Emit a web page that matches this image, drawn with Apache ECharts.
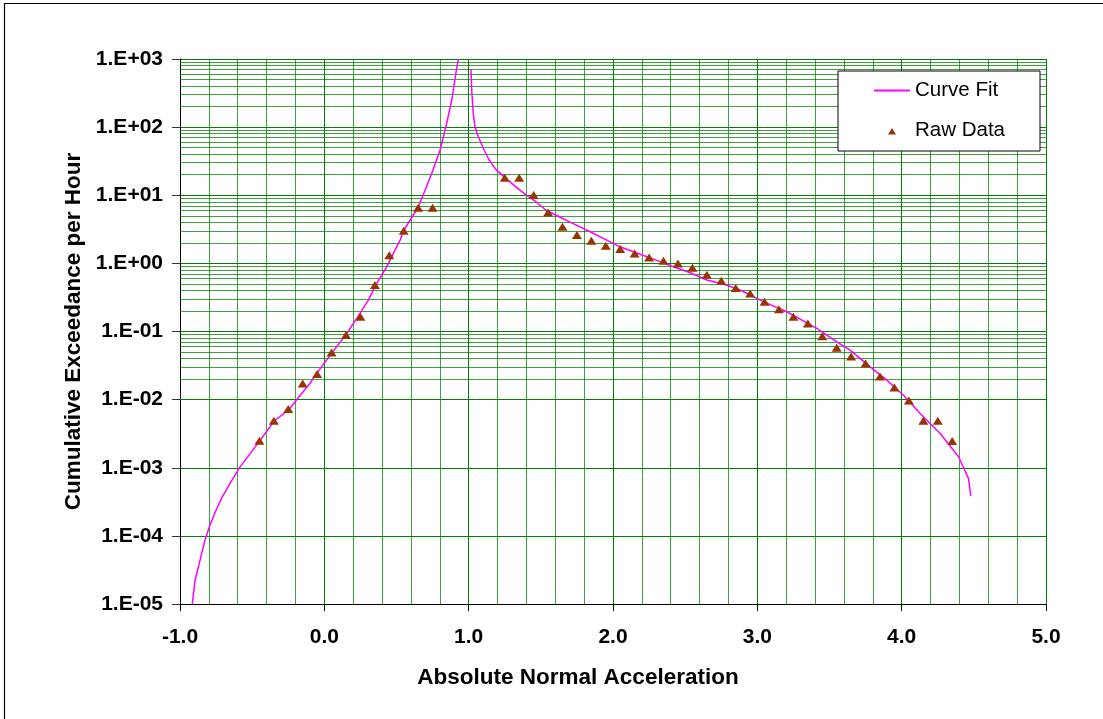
<!DOCTYPE html>
<html><head><meta charset="utf-8">
<script src="https://cdn.jsdelivr.net/npm/echarts@6/dist/echarts.min.js"></script>
<style>html,body{margin:0;padding:0;background:#fff}#c{width:1103px;height:719px}</style>
</head><body><div id="c"></div>
<script>
// ---- data ----
const curveLeftX = [-0.915,-0.896,-0.861,-0.827,-0.797,-0.757,-0.711,-0.653,-0.584,-0.515,-0.446,-0.346,-0.249,-0.175,-0.099,-0.053,0.04,0.155,0.224,0.305,0.363,0.432,0.478,0.525,0.552,0.652,0.744,0.802,0.848,0.883,0.915,0.929];
const curveLeftY = [1.0e-5,2.2e-5,4.4e-5,8.7e-5,1.35e-4,2.2e-4,3.6e-4,5.9e-4,1.03e-3,1.6e-3,2.5e-3,4.9e-3,7.0e-3,1.1e-2,1.74e-2,2.43e-2,4.47e-2,9.3e-2,0.155,0.288,0.508,0.89,1.40,2.20,3.09,6.78,20.9,46.1,114,250,692,1000];
const curveRightX = [1.016,1.021,1.032,1.044,1.067,1.107,1.142,1.188,1.258,1.327,1.397,1.466,1.534,1.627,1.72,1.841,1.957,2.049,2.141,2.234,2.326,2.419,2.535,2.65,2.765,2.881,2.996,3.112,3.204,3.297,3.412,3.551,3.643,3.782,3.897,4.013,4.128,4.267,4.394,4.463,4.479];
const curveRightY = [708,351,158,101,72.4,46.1,32.9,24.0,17.7,13.3,10.1,8.04,6.07,4.83,3.86,2.91,2.20,1.75,1.48,1.25,1.06,0.891,0.728,0.569,0.497,0.406,0.306,0.236,0.195,0.152,0.111,0.0706,0.0533,0.0303,0.0193,0.0116,0.00627,0.00318,0.00145,0.000697,0.000383];
const rawX = [-0.45,-0.35,-0.25,-0.15,-0.05,0.05,0.15,0.25,0.35,0.45,0.55,0.65,0.75,1.25,1.35,1.45,1.55,1.65,1.75,1.85,1.95,2.05,2.15,2.25,2.35,2.45,2.55,2.65,2.75,2.85,2.95,3.05,3.15,3.25,3.35,3.45,3.55,3.65,3.75,3.85,3.95,4.05,4.15,4.25,4.35];
const rawY = [0.0025,0.0049,0.0073,0.0173,0.0237,0.0493,0.0885,0.164,0.48,1.32,3.0,6.55,6.55,18.1,18.1,10.1,5.6,3.45,2.6,2.15,1.82,1.62,1.40,1.22,1.09,1.0,0.86,0.68,0.556,0.434,0.362,0.273,0.213,0.164,0.131,0.0855,0.0577,0.043,0.034,0.0219,0.0151,0.0097,0.0049,0.0049,0.00248];
const yTickLabels = ['1.E-05','1.E-04','1.E-03','1.E-02','1.E-01','1.E+00','1.E+01','1.E+02','1.E+03'];
const yMinExp = -5, yMaxExp = 3;
const xMin = -1, xMax = 5, xMinorPerMajor = 5;
const seriesNames = ['Curve Fit', 'Raw Data'];
const xTitle = 'Absolute Normal Acceleration';
const yTitle = 'Cumulative Exceedance per Hour';

// ---- build ----
const zip = (a, b) => a.map((v, i) => [v, b[i]]);
const FONT = 'Liberation Sans, Arial, sans-serif';
const GRID = '#008000';
const minorLines = [];
for (let k = yMinExp; k < yMaxExp; k++) {
  for (let m = 2; m <= 9; m++) minorLines.push({ yAxis: m * Math.pow(10, k) });
}
for (let i = xMin * xMinorPerMajor; i <= xMax * xMinorPerMajor; i++) {
  if (i % xMinorPerMajor !== 0) minorLines.push({ xAxis: i / xMinorPerMajor });
}

const chart = echarts.init(document.getElementById('c'), null, { renderer: 'canvas' });
chart.setOption({
  animation: false,
  backgroundColor: '#fff',
  textStyle: { fontFamily: FONT },
  graphic: [{
    type: 'rect', silent: true, z: 100,
    shape: { x: 4.5, y: 3.5, width: 1300, height: 900 },
    style: { fill: 'none', stroke: '#000', lineWidth: 1.2 }
  }],
  grid: { left: 180, right: 57, top: 59, bottom: 115, containLabel: false },
  legend: {
    orient: 'vertical', left: 838, top: 71,
    padding: [9, 35, 10, 35], itemGap: 19,
    itemWidth: 36, itemHeight: 8,
    borderColor: '#000', borderWidth: 1, backgroundColor: '#fff',
    textStyle: { fontFamily: FONT, fontSize: 20.5, color: '#000', lineHeight: 20 },
    data: [
      { name: seriesNames[0], itemStyle: { opacity: 0 } },
      { name: seriesNames[1], icon: 'path://M0,0 L0.01,0 M14,8 L18,1.5 L22,8 Z M36,0 L35.99,0', itemStyle: { color: '#993300' } }
    ],
    z: 10
  },
  xAxis: {
    type: 'value', min: xMin, max: xMax, interval: 1,
    name: xTitle, nameLocation: 'middle', nameGap: 62,
    nameTextStyle: { fontFamily: FONT, fontSize: 22.5, fontWeight: 'bold', color: '#000', padding: [0, 70, 0, 0] },
    axisLine: { show: true, onZero: false, lineStyle: { color: '#000', width: 1 } },
    axisTick: { show: true, inside: false, length: 7, lineStyle: { color: '#000' } },
    axisLabel: { margin: 23, fontFamily: FONT, fontSize: 21, fontWeight: 'bold', color: '#000', formatter: v => v.toFixed(1) },
    splitLine: { show: true, lineStyle: { color: GRID, width: 1 } }
  },
  yAxis: {
    type: 'log', logBase: 10, min: Math.pow(10, yMinExp), max: Math.pow(10, yMaxExp), splitNumber: 8,
    name: yTitle, nameLocation: 'middle', nameGap: 95, nameRotate: 90,
    nameTextStyle: { fontFamily: FONT, fontSize: 22.5, fontWeight: 'bold', color: '#000' },
    axisLine: { show: true, onZero: false, lineStyle: { color: '#000', width: 1 } },
    axisTick: { show: true, inside: false, length: 8, lineStyle: { color: '#333' } },
    axisLabel: {
      margin: 17, fontFamily: FONT, fontSize: 21, fontWeight: 'bold', color: '#000',
      formatter: v => { const e = Math.round(Math.log10(v)); return yTickLabels[e - yMinExp] || ''; }
    },
    splitLine: { show: true, lineStyle: { color: GRID, width: 1 } }
  },
  series: [
    { name: seriesNames[0], type: 'line', data: zip(curveLeftX, curveLeftY), symbol: 'none', z: 3,
      lineStyle: { color: '#FF00FF', width: 1.5 }, itemStyle: { color: '#FF00FF' } },
    { name: seriesNames[0], type: 'line', data: zip(curveRightX, curveRightY), symbol: 'none', z: 3,
      lineStyle: { color: '#FF00FF', width: 1.5 }, itemStyle: { color: '#FF00FF' } },
    { name: seriesNames[1], type: 'scatter', data: zip(rawX, rawY), symbol: 'triangle', symbolSize: [10, 8], z: 4,
      itemStyle: { color: '#993300', opacity: 1 },
      markLine: { silent: true, z: 1, animation: false, symbol: ['none', 'none'], label: { show: false },
        lineStyle: { color: GRID, width: 1, type: 'solid', opacity: 0.75 }, emphasis: { disabled: true },
        data: minorLines } }
  ]
});
</script>
</body></html>
